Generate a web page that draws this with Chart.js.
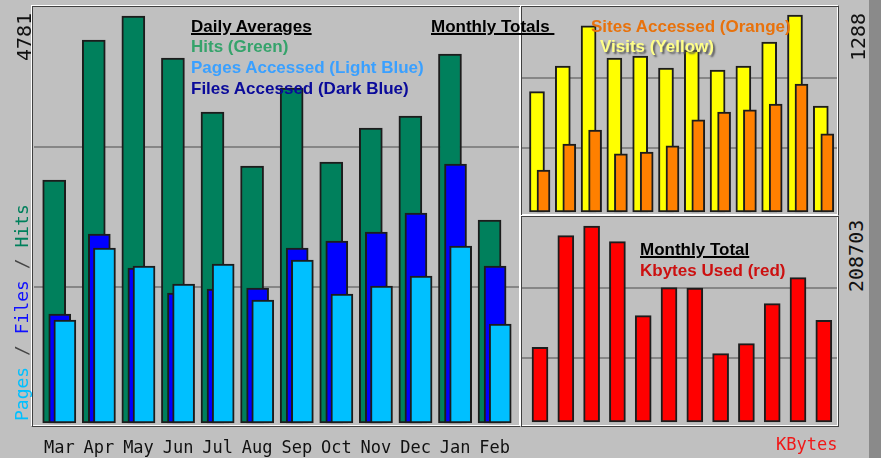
<!DOCTYPE html>
<html>
<head>
<meta charset="utf-8">
<script src="https://cdn.jsdelivr.net/npm/chart.js@4.4.0/dist/chart.umd.min.js"></script>
<style>
  body { margin: 0; width: 881px; height: 458px; background: #c0c0c0; position: relative; overflow: hidden; }
  .wrap { position: absolute; }
  .frame { position: absolute; box-sizing: border-box; border-top: 1px solid #fff; border-left: 1px solid #fff;
           border-right: 1px solid #404040; border-bottom: 1px solid #404040;
           box-shadow: inset 1px 1px 0 #404040, inset -1px -1px 0 #fff; z-index: 3; }
  .lbl { position: absolute; font: bold 17px "Liberation Sans", Arial, sans-serif; line-height: 17px; white-space: nowrap; z-index: 5; }
  .ul { text-decoration: underline; text-decoration-thickness: 2px; }
  .rot { position: absolute; transform-origin: 0 0; transform: rotate(-90deg); font-family: "DejaVu Sans Mono", monospace;
         white-space: nowrap; z-index: 5; }
  #strip { position: absolute; left: 869px; top: 0; width: 12px; height: 458px; background: #8a8a8a; }
</style>
</head>
<body>
<div id="strip"></div>

<div class="wrap" style="left:33px; top:7px;"><canvas id="daily" width="488" height="451"></canvas></div>
<div class="wrap" style="left:522px; top:8px;"><canvas id="visits" width="316" height="210"></canvas></div>
<div class="wrap" style="left:522px; top:218px;"><canvas id="kbytes" width="316" height="210"></canvas></div>

<div class="frame" style="left:31px; top:5px; width:490px; height:422px;"></div>
<div class="frame" style="left:520px; top:5px; width:319px; height:211px;"></div>
<div class="frame" style="left:520px; top:215px; width:319px; height:212px;"></div>

<div class="lbl ul" style="left:191px; top:18px; color:#000;">Daily Averages</div>
<div class="lbl" style="left:191px; top:38px; color:#35a36b;">Hits (Green)</div>
<div class="lbl" style="left:191px; top:59px; color:#3aa0ff;">Pages Accessed (Light Blue)</div>
<div class="lbl" style="left:191px; top:80px; color:#0a0a9a;">Files Accessed (Dark Blue)</div>

<div class="lbl ul" style="left:431px; top:18px; color:#000;">Monthly Totals&nbsp;</div>
<div class="lbl" style="left:591px; top:18px; color:#e8720c;">Sites Accessed (Orange)</div>
<div class="lbl" style="left:600px; top:38px; color:#ffff88; text-shadow: 2px 2px 2px #555;">Visits (Yellow)</div>

<div class="lbl ul" style="left:640px; top:241px; color:#000;">Monthly Total</div>
<div class="lbl" style="left:640px; top:262px; color:#cc1010;">Kbytes Used (red)</div>

<div class="rot" id="maxDaily" style="left:14px; top:61px; font-size:20px; line-height:20px; color:#111;"></div>
<div class="rot" id="maxVisits" style="left:848px; top:61px; font-size:20px; line-height:20px; color:#111;"></div>
<div class="rot" id="maxKbytes" style="left:846px; top:292px; font-size:20px; line-height:20px; color:#111;"></div>
<div class="rot" style="left:13px; top:421px; font-size:18px; line-height:18px;"><span style="color:#00c0ff">Pages</span><span style="color:#444"> / </span><span style="color:#1010ff">Files</span><span style="color:#444"> / </span><span style="color:#00805c">Hits</span></div>
<div class="lbl" style="left:776px; top:436px; font: 17px 'DejaVu Sans Mono', monospace; line-height:17px; color:#f01818;">KBytes</div>

<script>
const months = ["Mar", "Apr", "May", "Jun", "Jul", "Aug", "Sep", "Oct", "Nov", "Dec", "Jan", "Feb"];

// daily averages (left panel)
const dailyHits  = [2855, 4499, 4781, 4288, 3653, 3019, 3935, 3066, 3465, 3606, 4335, 2385];
const dailyFiles = [1280, 2220, 1821, 1527, 1574, 1586, 2056, 2138, 2244, 2467, 3042, 1844];
const dailyPages = [1210, 2056, 1844, 1633, 1868, 1445, 1915, 1515, 1609, 1727, 2079, 1163];

// monthly totals (right panels)
const monthlyVisits = [787, 955, 1218, 1007, 1020, 941, 1059, 928, 955, 1111, 1288, 693];
const monthlySites  = [275, 445, 536, 381, 392, 433, 603, 654, 669, 706, 837, 512];
const monthlyKbytes = [79541, 198372, 208703, 191983, 113188, 143003, 142500, 72726, 83374, 125966, 153651, 108290];

// scale labels printed on the sides
const scaleLabels = ["4781", "1288", "208703"];

document.getElementById("maxDaily").textContent = scaleLabels[0];
document.getElementById("maxVisits").textContent = scaleLabels[1];
document.getElementById("maxKbytes").textContent = scaleLabels[2];

function series(values, shift) {
  return values.map((v, i) => ({ x: i + shift, y: v }));
}

function bars(values, shift, color, width) {
  return {
    data: series(values, shift),
    backgroundColor: color,
    borderColor: "#1c1c1c",
    borderWidth: 2,
    borderSkipped: false,
    barThickness: width,
    grouped: false,
  };
}

// two grey lines at a third and two thirds of the panel
function thirdGrid(scale) {
  const step = (scale.max - scale.min) / 3;
  scale.ticks = [1, 2].map(k => ({ value: scale.min + k * step }));
}

function makeChart(id, datasets, xMin, xMax, yMin, yMax, showMonths) {
  const ctx = document.getElementById(id).getContext("2d");
  return new Chart(ctx, {
    type: "bar",
    data: { datasets: datasets },
    options: {
      responsive: false,
      animation: false,
      layout: { padding: 0 },
      plugins: { legend: { display: false }, tooltip: { enabled: false } },
      scales: {
        x: {
          type: "linear",
          min: xMin,
          max: xMax,
          offset: false,
          display: showMonths,
          grid: { display: false, drawTicks: false },
          border: { display: false },
          afterBuildTicks: s => { s.ticks = months.map((m, i) => ({ value: i })); },
          afterFit: s => { s.height = showMonths ? 31 : 0; },
          ticks: {
            autoSkip: false,
            maxRotation: 0,
            padding: 11,
            color: "#111",
            font: { family: "DejaVu Sans Mono", size: 17 },
            callback: v => months[v],
          },
        },
        y: {
          min: yMin,
          max: yMax,
          afterBuildTicks: thirdGrid,
          afterFit: s => { s.width = 0; },
          grid: { color: "#868686", lineWidth: 2, drawTicks: false },
          border: { display: false },
          ticks: { display: false },
        },
      },
    },
  });
}

makeChart("daily", [
  bars(dailyPages, 0.14, "#00c0ff", 22),
  bars(dailyFiles, 0.01, "#0000ff", 22),
  bars(dailyHits, -0.13, "#00805c", 23),
], -0.644, 11.656, -47, 4887, true);

makeChart("visits", [
  bars(monthlySites, 0.252, "#ff8000", 13),
  bars(monthlyVisits, 0, "#ffff00", 15),
], -0.581, 11.667, -39, 1334, false);

makeChart("kbytes", [
  bars(monthlyKbytes, 0, "#ff0000", 16),
], -0.698, 11.55, -6389, 217219, false);
</script>
</body>
</html>
